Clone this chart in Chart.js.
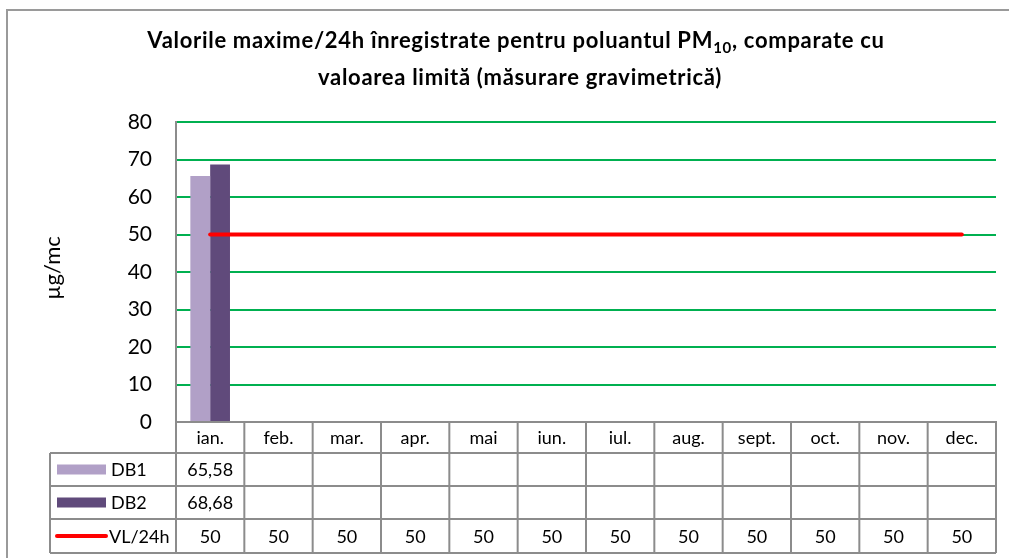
<!DOCTYPE html>
<html>
<head>
<meta charset="utf-8">
<script src="https://cdn.jsdelivr.net/npm/chart.js@4.4.1/dist/chart.umd.min.js"></script>
<style>
  html, body { margin: 0; padding: 0; background: #fff; }
  #wrap { width: 1009px; height: 558px; position: relative; }
</style>
</head>
<body>
<div id="wrap"><canvas id="c" width="1009" height="558"></canvas></div>
<script>
// ---- data ----
const categories = ['ian.', 'feb.', 'mar.', 'apr.', 'mai', 'iun.', 'iul.', 'aug.', 'sept.', 'oct.', 'nov.', 'dec.'];
const seriesNames = ['DB1', 'DB2', 'VL/24h'];
const db1Values = [65.58, null, null, null, null, null, null, null, null, null, null, null];
const db2Values = [68.68, null, null, null, null, null, null, null, null, null, null, null];
const vlValues = [50, 50, 50, 50, 50, 50, 50, 50, 50, 50, 50, 50];
const yTicks = [0, 10, 20, 30, 40, 50, 60, 70, 80];
const titleLine1 = ['Valorile maxime/24h înregistrate pentru poluantul PM', '10', ', comparate cu'];
const titleLine2 = 'valoarea limită (măsurare gravimetrică)';
const yAxisTitle = 'µg/mc';

const FONT = 'Lato, "Open Sans", sans-serif';
const colDB1 = '#B1A0C7';
const colDB2 = '#604A7B';
const colVL = '#FF0000';
const gridGreen = '#00B050';
const lineGray = '#8C8C8C';

function fmt(v) {
  if (v === null || v === undefined) return '';
  return String(v).replace('.', ',');
}

const decorPlugin = {
  id: 'decor',
  afterDraw(chart) {
    const ctx = chart.ctx;
    const x = chart.scales.x;
    const area = chart.chartArea;
    ctx.save();

    // outer frame (top & left visible)
    ctx.strokeStyle = '#9A9A9A';
    ctx.lineWidth = 2;
    ctx.beginPath();
    ctx.moveTo(7, 600); ctx.lineTo(7, 10); ctx.lineTo(1020, 10);
    ctx.stroke();

    // title
    ctx.fillStyle = '#000';
    ctx.textBaseline = 'alphabetic';
    try { ctx.letterSpacing = '0.7px'; } catch (e) {}
    const big = 'bold 22px ' + FONT;
    const small = 'bold 15px ' + FONT;
    ctx.font = big;
    const w0 = ctx.measureText(titleLine1[0]).width;
    const w2 = ctx.measureText(titleLine1[2]).width;
    ctx.font = small;
    const w1 = ctx.measureText(titleLine1[1]).width;
    const cx = 516;
    let sx = cx - (w0 + w1 + w2) / 2;
    ctx.textAlign = 'left';
    ctx.font = big; ctx.fillText(titleLine1[0], sx, 48);
    ctx.font = small; ctx.fillText(titleLine1[1], sx + w0, 53);
    ctx.font = big; ctx.fillText(titleLine1[2], sx + w0 + w1, 48);
    ctx.textAlign = 'center';
    ctx.fillText(titleLine2, 520, 85);
    try { ctx.letterSpacing = '0px'; } catch (e) {}

    // y axis title
    ctx.save();
    ctx.translate(53, 268);
    ctx.rotate(-Math.PI / 2);
    ctx.font = '22px ' + FONT;
    ctx.textAlign = 'center';
    ctx.textBaseline = 'middle';
    ctx.fillText(yAxisTitle, 0, 0);
    ctx.restore();

    // data table
    const n = categories.length;
    const cw = (x.right - x.left) / n;
    const top = area.bottom;
    const rows = [top, 453, 486, 519, 553];
    const leftCol = 50;
    ctx.strokeStyle = lineGray;
    ctx.lineWidth = 2;
    ctx.beginPath();
    for (let r = 1; r < rows.length; r++) {
      ctx.moveTo(leftCol, rows[r]);
      ctx.lineTo(x.right, rows[r]);
    }
    for (let i = 0; i <= n; i++) {
      const px = x.left + i * cw;
      ctx.moveTo(px, top);
      ctx.lineTo(px, rows[4]);
    }
    ctx.moveTo(leftCol, rows[1]);
    ctx.lineTo(leftCol, rows[4]);
    ctx.stroke();

    // header labels and values
    ctx.fillStyle = '#000';
    ctx.font = '18px ' + FONT;
    ctx.textAlign = 'center';
    ctx.textBaseline = 'middle';
    const rowMid = (r) => (rows[r] + rows[r + 1]) / 2 + 1;
    categories.forEach((c, i) => {
      ctx.fillText(c, x.getPixelForValue(i), rowMid(0));
    });
    const seriesVals = [db1Values, db2Values, vlValues];
    seriesVals.forEach((arr, s) => {
      arr.forEach((v, i) => {
        const t = fmt(v);
        if (t) ctx.fillText(t, x.getPixelForValue(i), rowMid(s + 1));
      });
    });

    // legend keys
    ctx.textAlign = 'left';
    ctx.fillStyle = colDB1;
    ctx.fillRect(57, rowMid(1) - 6, 49, 10);
    ctx.fillStyle = colDB2;
    ctx.fillRect(57, rowMid(2) - 6, 49, 10);
    ctx.strokeStyle = colVL;
    ctx.lineWidth = 4;
    ctx.lineCap = 'round';
    ctx.beginPath();
    ctx.moveTo(57, rowMid(3) - 1);
    ctx.lineTo(106, rowMid(3) - 1);
    ctx.stroke();
    ctx.fillStyle = '#000';
    ctx.fillText(seriesNames[0], 111, rowMid(1));
    ctx.fillText(seriesNames[1], 111, rowMid(2));
    ctx.fillText(seriesNames[2], 109, rowMid(3));

    ctx.restore();
  }
};

new Chart(document.getElementById('c'), {
  type: 'bar',
  data: {
    labels: categories,
    datasets: [
      { type: 'line', label: seriesNames[2], data: vlValues, borderColor: colVL, backgroundColor: colVL,
        borderWidth: 4, pointRadius: 0, borderCapStyle: 'round', order: 0 },
      { label: seriesNames[0], data: db1Values, backgroundColor: colDB1, order: 1,
        categoryPercentage: 0.58, barPercentage: 1.0 },
      { label: seriesNames[1], data: db2Values, backgroundColor: colDB2, order: 1,
        categoryPercentage: 0.58, barPercentage: 1.0 }
    ]
  },
  options: {
    responsive: false,
    animation: false,
    layout: { padding: { left: 0, top: 122, right: 13, bottom: 136 } },
    plugins: {
      legend: { display: false },
      title: { display: false },
      tooltip: { enabled: false }
    },
    scales: {
      x: {
        offset: true,
        grid: { display: false },
        border: { display: true, color: lineGray, width: 2 },
        ticks: { display: false },
        afterFit(s) { s.height = 0; }
      },
      y: {
        min: 0, max: 80,
        afterBuildTicks(s) { s.ticks = yTicks.map(v => ({ value: v })); },
        afterFit(s) { s.width = 176; },
        grid: {
          drawTicks: false,
          color: (c) => (c.tick && c.tick.value === 0) ? 'rgba(0,0,0,0)' : gridGreen,
          lineWidth: 2
        },
        border: { display: true, color: lineGray, width: 2 },
        ticks: {
          padding: 24,
          color: '#000',
          font: { family: FONT, size: 21 }
        }
      }
    }
  },
  plugins: [decorPlugin]
});
</script>
</body>
</html>
